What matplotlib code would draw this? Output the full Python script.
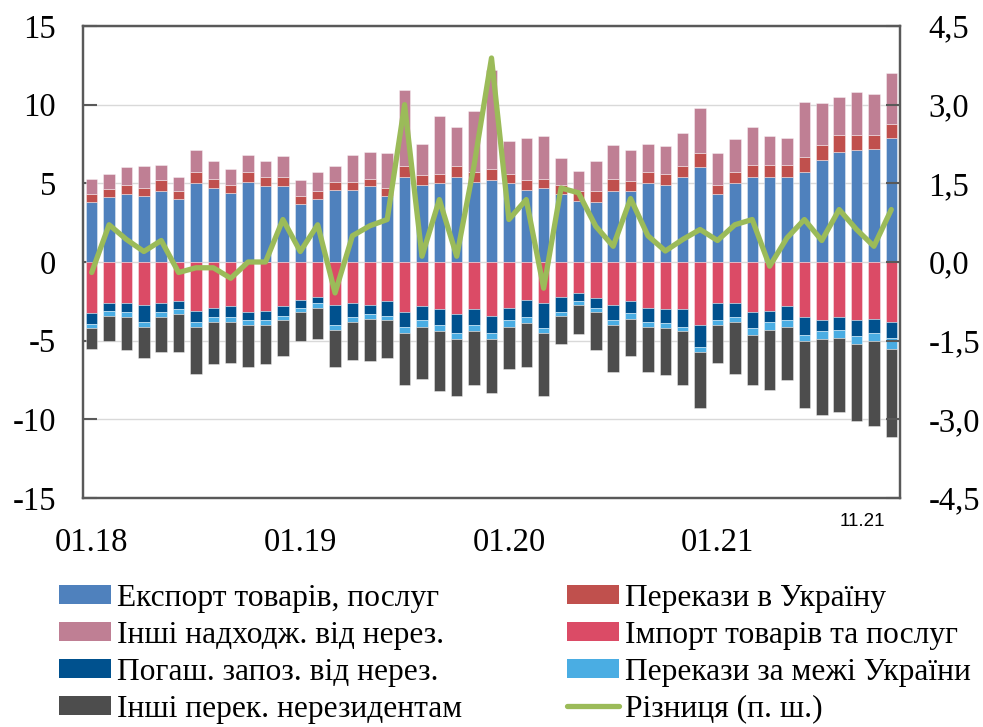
import matplotlib
matplotlib.use("Agg")
import matplotlib.pyplot as plt
import numpy as np
from matplotlib.lines import Line2D
from matplotlib.patches import Patch

# ---- data ----
months = ["01.18", "02.18", "03.18", "04.18", "05.18", "06.18", "07.18", "08.18", "09.18", "10.18", "11.18", "12.18",
          "01.19", "02.19", "03.19", "04.19", "05.19", "06.19", "07.19", "08.19", "09.19", "10.19", "11.19", "12.19",
          "01.20", "02.20", "03.20", "04.20", "05.20", "06.20", "07.20", "08.20", "09.20", "10.20", "11.20", "12.20",
          "01.21", "02.21", "03.21", "04.21", "05.21", "06.21", "07.21", "08.21", "09.21", "10.21", "11.21"]

export = [3.79, 4.11, 4.30, 4.19, 4.51, 4.00, 5.02, 4.70, 4.41, 5.11, 4.81, 4.81,
          3.69, 4.00, 4.60, 4.60, 4.81, 4.19, 5.40, 4.89, 5.00, 5.40, 5.11, 5.19,
          5.00, 4.60, 4.70, 4.35, 3.90, 3.79, 4.51, 4.51, 5.00, 4.89, 5.40, 6.02,
          4.30, 5.00, 5.40, 5.40, 5.40, 5.70, 6.48, 7.01, 7.10, 7.20, 7.90]
remit_in = [0.51, 0.51, 0.57, 0.49, 0.68, 0.49, 0.68, 0.60, 0.48, 0.59, 0.59, 0.59,
            0.48, 0.49, 0.48, 0.48, 0.49, 0.49, 0.68, 0.62, 0.59, 0.68, 0.59, 0.70,
            0.59, 0.59, 0.60, 0.52, 0.59, 0.70, 0.79, 0.66, 0.70, 0.70, 0.68, 0.89,
            0.59, 0.70, 0.79, 0.79, 0.79, 0.99, 0.98, 1.08, 0.99, 0.89, 0.89]
other_in = [1.00, 0.97, 1.15, 1.44, 1.00, 0.91, 1.40, 1.10, 1.02, 1.10, 1.00, 1.32,
            1.02, 1.23, 1.04, 1.72, 1.71, 2.23, 4.83, 1.99, 3.71, 2.52, 3.92, 6.33,
            2.10, 2.71, 2.71, 1.74, 1.32, 1.91, 2.12, 1.95, 1.80, 1.80, 2.12, 2.90,
            2.02, 2.10, 2.41, 1.82, 1.71, 3.50, 2.65, 2.40, 2.72, 2.61, 3.22]
imports = [-3.22, -2.61, -2.61, -2.71, -2.61, -2.50, -3.11, -2.90, -2.80, -3.20, -3.11, -2.80,
           -2.42, -2.20, -2.71, -2.61, -2.71, -2.50, -3.20, -2.80, -3.01, -3.31, -3.01, -3.41,
           -2.90, -2.42, -2.61, -2.20, -1.99, -2.31, -2.71, -2.50, -2.90, -3.01, -3.01, -4.00,
           -2.61, -2.61, -3.20, -3.11, -2.80, -3.52, -3.71, -3.52, -3.71, -3.60, -3.81]
repay = [-0.71, -0.48, -0.59, -1.08, -0.59, -0.51, -0.68, -0.60, -0.70, -0.51, -0.60, -0.61,
         -0.48, -0.41, -1.29, -0.89, -0.60, -0.91, -0.91, -0.91, -0.99, -1.20, -0.99, -1.10,
         -0.81, -1.08, -1.58, -1.00, -0.51, -0.63, -1.00, -0.76, -0.89, -0.89, -1.10, -1.40,
         -1.10, -0.89, -0.99, -0.68, -0.91, -1.10, -0.70, -0.78, -0.99, -0.91, -1.00]
remit_out = [-0.29, -0.32, -0.32, -0.32, -0.32, -0.30, -0.32, -0.31, -0.31, -0.32, -0.32, -0.30,
             -0.30, -0.29, -0.30, -0.31, -0.30, -0.30, -0.40, -0.40, -0.41, -0.41, -0.41, -0.41,
             -0.40, -0.40, -0.32, -0.21, -0.21, -0.26, -0.32, -0.35, -0.32, -0.32, -0.30, -0.30,
             -0.32, -0.31, -0.43, -0.51, -0.40, -0.38, -0.51, -0.51, -0.51, -0.51, -0.70]
other_out = [-1.29, -1.59, -2.07, -1.99, -2.18, -2.39, -2.99, -2.69, -2.59, -2.66, -2.47, -2.29,
             -1.80, -1.99, -2.39, -2.40, -2.70, -2.39, -3.31, -3.31, -3.79, -3.58, -3.41, -3.39,
             -2.69, -2.79, -3.99, -1.80, -1.89, -2.39, -2.96, -2.39, -2.88, -2.98, -3.41, -3.60,
             -2.37, -3.29, -3.20, -3.81, -3.39, -4.30, -4.78, -4.70, -4.90, -5.38, -5.59]
difference = [-0.20, 0.71, 0.43, 0.20, 0.41, -0.20, -0.11, -0.11, -0.31, 0.00, 0.00, 0.81,
              0.20, 0.71, -0.59, 0.50, 0.69, 0.81, 3.00, 0.11, 1.19, 0.11, 1.85, 3.89,
              0.81, 1.19, -0.50, 1.41, 1.32, 0.68, 0.30, 1.21, 0.50, 0.21, 0.43, 0.62,
              0.41, 0.71, 0.81, -0.08, 0.46, 0.81, 0.41, 1.00, 0.62, 0.30, 1.00]

labels = ["Експорт товарів, послуг", "Перекази в Україну", "Інші надходж. від нерез.",
          "Імпорт товарів та послуг", "Погаш. запоз. від нерез.", "Перекази за межі України",
          "Інші перек. нерезидентам", "Різниця (п. ш.)"]
left_ticks = [15, 10, 5, 0, -5, -10, -15]
left_ticklabels = ["15", "10", "5", "0", "-5", "-10", "-15"]
right_ticks = [4.5, 3.0, 1.5, 0.0, -1.5, -3.0, -4.5]
right_ticklabels = ["4,5", "3,0", "1,5", "0,0", "-1,5", "-3,0", "-4,5"]
shown_months = ["01.18", "01.19", "01.20", "01.21"]

colors = {
    "export": "#4F81BD", "remit_in": "#C0504D", "other_in": "#BF7F94",
    "imports": "#DB4B66", "repay": "#00518E", "remit_out": "#4AADE3",
    "other_out": "#4D4D4D", "line": "#9BBB59",
}

serif = ["Liberation Serif", "DejaVu Serif"]
plt.rcParams["font.family"] = serif

fig = plt.figure(figsize=(9.83, 7.27), dpi=100)
ax = fig.add_axes([83 / 983, 1 - 498 / 727, (900 - 83) / 983, (498 - 26) / 727])

x = np.arange(len(months))
w = 0.66
ek = dict(edgecolor=(1, 1, 1, 0.45), linewidth=0.6, zorder=2)

e = np.array(export); ri = np.array(remit_in); oi = np.array(other_in)
im = np.array(imports); rp = np.array(repay); ro = np.array(remit_out); oo = np.array(other_out)

ax.bar(x, e, w, color=colors["export"], **ek)
ax.bar(x, ri, w, bottom=e, color=colors["remit_in"], **ek)
ax.bar(x, oi, w, bottom=e + ri, color=colors["other_in"], **ek)
ax.bar(x, im, w, color=colors["imports"], **ek)
ax.bar(x, rp, w, bottom=im, color=colors["repay"], **ek)
ax.bar(x, ro, w, bottom=im + rp, color=colors["remit_out"], **ek)
ax.bar(x, oo, w, bottom=im + rp + ro, color=colors["other_out"], **ek)

ax.set_xlim(-0.5, len(months) - 0.5)
ax.set_ylim(-15, 15)
ax.set_yticks(left_ticks)
ax.set_yticklabels(left_ticklabels)
ax.grid(axis="y", color="#D9D9D9", linewidth=1.0, zorder=0)
ax.set_axisbelow(True)

pos = [months.index(m) for m in shown_months]
ax.set_xticks(pos)
ax.set_xticklabels(shown_months)
ax.tick_params(axis="x", length=0, pad=21, labelsize=23.5)
ax.tick_params(axis="y", direction="in", length=10, width=1.5, color="#595959",
               pad=19.5, labelsize=23.5)

for s in ax.spines.values():
    s.set_color("#595959")
    s.set_linewidth(1.6)

ax2 = ax.twinx()
ax2.set_ylim(-4.5, 4.5)
ax2.set_yticks(right_ticks)
ax2.set_yticklabels(right_ticklabels)
ax2.tick_params(axis="y", direction="in", length=10, width=1.5, color="#595959",
                pad=20.5, labelsize=23.5)
for s in ax2.spines.values():
    s.set_color("#595959")
    s.set_linewidth(1.6)
ax2.plot(x, difference, color=colors["line"], linewidth=3.8, solid_joinstyle="round",
         solid_capstyle="round", zorder=5)

fig.text(862 / 983, 1 - 521 / 727, "11.21", fontsize=13.5, ha="center", va="center",
         family=["Liberation Sans", "DejaVu Sans"])

handles = [
    Patch(facecolor=colors["export"]),
    Patch(facecolor=colors["other_in"]),
    Patch(facecolor=colors["repay"]),
    Patch(facecolor=colors["other_out"]),
    Patch(facecolor=colors["remit_in"]),
    Patch(facecolor=colors["imports"]),
    Patch(facecolor=colors["remit_out"]),
    Line2D([0], [0], color=colors["line"], linewidth=3.8, solid_capstyle="round"),
]
leg_labels = [labels[0], labels[2], labels[4], labels[6], labels[1], labels[3], labels[5], labels[7]]
fig.legend(handles, leg_labels, ncol=2, loc="upper left",
           bbox_to_anchor=(59 / 983, 1 - 584 / 727), frameon=False, fontsize=22.7,
           handlelength=1.65, handleheight=0.54, handletextpad=0.18, labelspacing=0.25,
           columnspacing=3.35, borderpad=0, borderaxespad=0)

fig.savefig("out.png", dpi=100)
